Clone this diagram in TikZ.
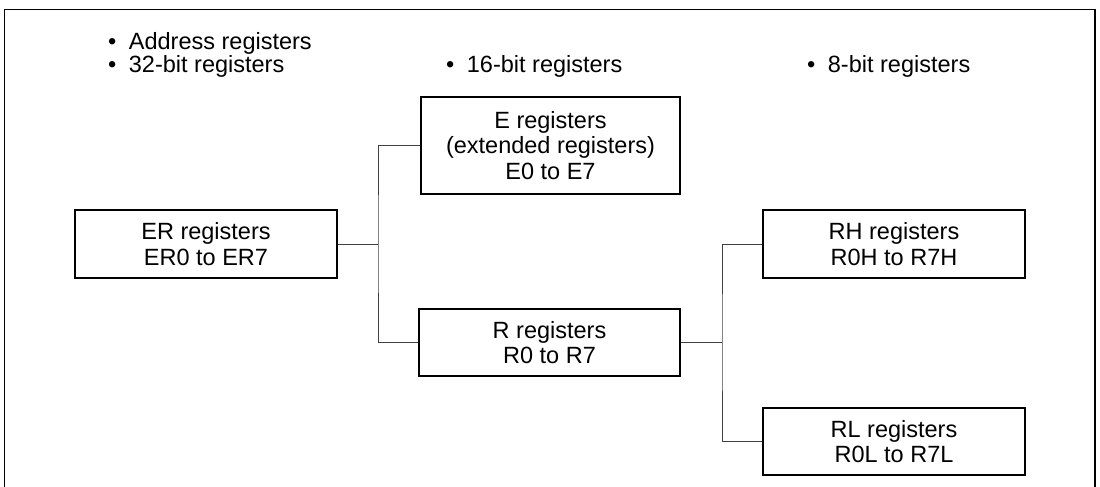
\documentclass[tikz,border=0pt]{standalone}
\usepackage{fontspec}
\setmainfont{Liberation Sans}
\begin{document}
\begin{tikzpicture}[x=1pt,y=-1pt,
  regbox/.style={draw=black, line width=1.1pt, fill=white, inner sep=0pt,
    align=center, font=\fontsize{23.5}{25.5}\selectfont},
  heading/.style={anchor=base west, inner sep=0pt,
    font=\fontsize{23.5}{25.5}\selectfont},
  link/.style={draw=black!75, line width=0.8pt},
  frame/.style={draw=black, line width=1.2pt}]
\useasboundingbox (0,0) rectangle (1100,487);

% open frame (cut at the bottom)
\draw[frame] (4.5,487) -- (4.5,9.5) -- (1095,9.5) -- (1095,487);

% column headings
\node[heading] (h1a) at (108,49) {•\hspace{12.5pt}Address registers};
\node[heading] (h1b) at (108,73) {•\hspace{12.5pt}32-bit registers};
\node[heading] (h2)  at (446,73) {•\hspace{12.5pt}16-bit registers};
\node[heading] (h3)  at (807,73) {•\hspace{12.5pt}8-bit registers};

% register boxes
\node[regbox, minimum width=262pt, minimum height=68pt] (er) at (206,244)
  {ER registers\\ER0 to ER7};
\node[regbox, minimum width=259pt, minimum height=97pt] (e) at (550.5,145.5)
  {E registers\\(extended registers)\\E0 to E7};
\node[regbox, minimum width=261pt, minimum height=67pt] (r) at (549.5,342.5)
  {R registers\\R0 to R7};
\node[regbox, minimum width=262pt, minimum height=68pt] (rh) at (894,244)
  {RH registers\\R0H to R7H};
\node[regbox, minimum width=262pt, minimum height=67pt] (rl) at (894,441.5)
  {RL registers\\R0L to R7L};

% branch points
\coordinate (j1) at (378,244);
\coordinate (j2) at (722,342.5);

% connectors
\draw[link] (er.east) -- (j1);
\draw[link] (e.west) -| (j1) |- (r.west);
\draw[link] (r.east) -- (j2);
\draw[link] (rh.west) -| (j2) |- (rl.west);
\end{tikzpicture}
\end{document}
